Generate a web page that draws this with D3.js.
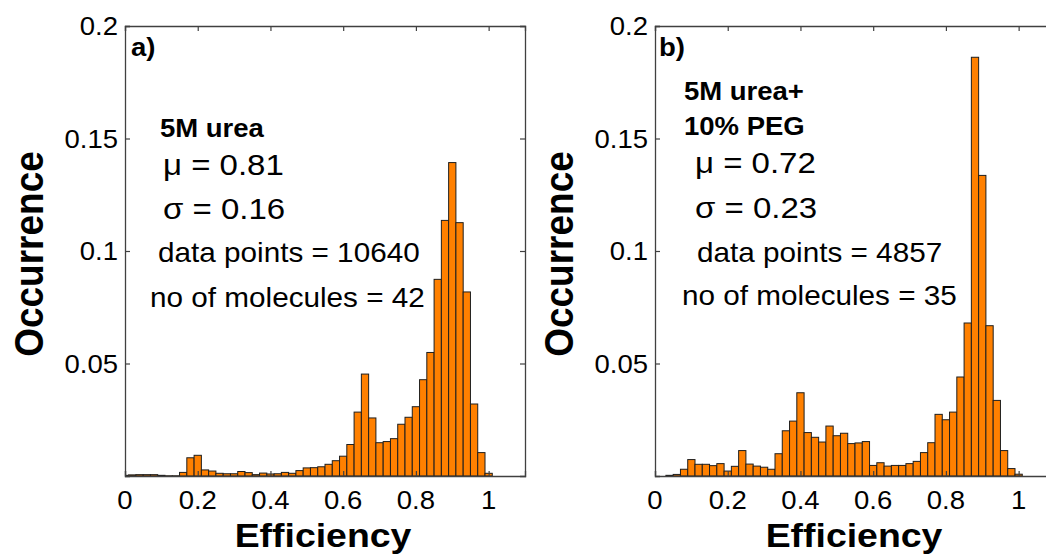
<!DOCTYPE html>
<html>
<head>
<meta charset="utf-8">
<script src="https://cdn.jsdelivr.net/npm/d3@7"></script>
<style>
  html, body { margin: 0; padding: 0; background: #fff; }
  svg { display: block; }
  text { font-family: "Liberation Sans", Arial, Helvetica, sans-serif; fill: #000; }
</style>
</head>
<body>
<svg id="chart" width="1046" height="556"></svg>
<script>
// ---- data ----
const efficiencyBins = [0.00,0.02,0.04,0.06,0.08,0.10,0.12,0.14,0.16,0.18,
  0.20,0.22,0.24,0.26,0.28,0.30,0.32,0.34,0.36,0.38,
  0.40,0.42,0.44,0.46,0.48,0.50,0.52,0.54,0.56,0.58,
  0.60,0.62,0.64,0.66,0.68,0.70,0.72,0.74,0.76,0.78,
  0.80,0.82,0.84,0.86,0.88,0.90,0.92,0.94,0.96,0.98,1.00];

const occurrenceUrea = [0.0003,0.0005,0.0006,0.0006,0.0006,0.0003,0.0001,0.0001,0.0016,0.0081,
  0.0092,0.0027,0.0022,0.0012,0.0010,0.0010,0.0020,0.0015,0.0006,0.0013,
  0.0009,0.0010,0.0016,0.0012,0.0024,0.0036,0.0037,0.0041,0.0052,0.0068,
  0.0088,0.0140,0.0284,0.0453,0.0258,0.0148,0.0153,0.0166,0.0230,0.0261,
  0.0308,0.0428,0.0549,0.0874,0.1136,0.1393,0.1126,0.0818,0.0320,0.0104,0.0012];

const occurrenceUreaPEG = [0.0000,0.0000,0.0003,0.0007,0.0030,0.0073,0.0052,0.0052,0.0046,0.0055,
  0.0022,0.0043,0.0113,0.0053,0.0044,0.0039,0.0030,0.0099,0.0201,0.0244,
  0.0370,0.0193,0.0172,0.0151,0.0222,0.0179,0.0190,0.0144,0.0147,0.0153,
  0.0047,0.0059,0.0044,0.0047,0.0047,0.0055,0.0065,0.0104,0.0148,0.0274,
  0.0250,0.0284,0.0440,0.0680,0.1861,0.1336,0.0668,0.0336,0.0113,0.0033,0.0008];

const xTickValues = [0, 0.2, 0.4, 0.6, 0.8, 1];
const xTickLabels = ["0", "0.2", "0.4", "0.6", "0.8", "1"];
const yTickValues = [0.05, 0.1, 0.15, 0.2];
const yTickLabels = ["0.05", "0.1", "0.15", "0.2"];
const binWidth = 0.02;

const panelA = {
  values: occurrenceUrea,
  letter: "a)",
  title: ["5M urea"],
  mu: "\u03bc = 0.81",
  sigma: "\u03c3 = 0.16",
  points: "data points = 10640",
  molecules: "no of molecules = 42"
};
const panelB = {
  values: occurrenceUreaPEG,
  letter: "b)",
  title: ["5M urea+", "10% PEG"],
  mu: "\u03bc = 0.72",
  sigma: "\u03c3 = 0.23",
  points: "data points = 4857",
  molecules: "no of molecules = 35"
};

// ---- drawing ----
const svg = d3.select("#chart");
const W = 1046, H = 556;
const SX = 1.1; // glyphs in the figure are slightly stretched horizontally

function label(g, px, py, str, size, opts = {}) {
  const t = g.append("text")
    .attr("transform", `translate(${px},${py}) scale(${SX},1)`)
    .style("font-size", size + "px")
    .attr("text-anchor", opts.anchor || "start")
    .text(str);
  if (opts.bold) t.style("font-weight", "bold");
  return t;
}

function drawPanel(cfg, layout, idx) {
  const g = svg.append("g");
  const x = d3.scaleLinear().domain([0, 1.1]).range([layout.left, layout.left + 400]);
  const y = d3.scaleLinear().domain([0, 0.2]).range([476, 26]);
  const x0 = x.range()[0], x1 = x.range()[1], y0 = y.range()[0], y1 = y.range()[1];

  const clipId = "clip" + idx;
  g.append("clipPath").attr("id", clipId)
    .append("rect").attr("x", x0).attr("y", y1).attr("width", x1 - x0).attr("height", y0 - y1);

  // bars
  g.append("g").attr("clip-path", `url(#${clipId})`)
    .selectAll("rect").data(cfg.values.map((v, i) => ({ c: efficiencyBins[i], v })))
    .join("rect")
    .attr("x", d => x(d.c - binWidth / 2))
    .attr("width", d => x(d.c + binWidth / 2) - x(d.c - binWidth / 2))
    .attr("y", d => y(d.v))
    .attr("height", d => y(0) - y(d.v))
    .attr("fill", "#ff8000")
    .attr("stroke", "#1e1e1e")
    .attr("stroke-width", 1);

  // axes (box with inner ticks)
  const axisColor = "#404040";
  const tickLen = 5;
  const xb = d3.axisBottom(x).tickValues(xTickValues).tickSize(-tickLen).tickFormat("");
  const xt = d3.axisTop(x).tickValues(xTickValues).tickSize(-tickLen).tickFormat("");
  const yl = d3.axisLeft(y).tickValues(yTickValues).tickSize(-tickLen).tickFormat("");
  const yr = d3.axisRight(y).tickValues(yTickValues).tickSize(-tickLen).tickFormat("");
  const gb = g.append("g").attr("transform", `translate(0,${y0})`).call(xb);
  const gt = g.append("g").attr("transform", `translate(0,${y1})`).call(xt);
  const gl = g.append("g").attr("transform", `translate(${x0},0)`).call(yl);
  const gr = g.append("g").attr("transform", `translate(${x1},0)`).call(yr);
  [gb, gt, gl, gr].forEach(a => {
    a.selectAll("path.domain").attr("stroke", axisColor).attr("stroke-width", 1.3);
    a.selectAll(".tick line").attr("stroke", axisColor).attr("stroke-width", 1.2);
  });

  // tick labels
  xTickValues.forEach((d, i) => label(g, x(d), 509, xTickLabels[i], 25, { anchor: "middle" }));
  yTickValues.forEach((d, i) => label(g, x0 - 7, y(d) + 9, yTickLabels[i], 25, { anchor: "end" }));

  // axis titles
  label(g, layout.xTitleX, 547, "Efficiency", 34, { anchor: "middle", bold: true });
  g.append("text")
    .attr("transform", `translate(${layout.yTitleX},${(y0 + y1) / 2 + 3}) rotate(-90) scale(1,${SX})`)
    .attr("text-anchor", "middle")
    .style("font-size", "37px").style("font-weight", "bold")
    .text("Occurrence");

  // annotations
  const t = layout.text;
  label(g, t.letter[0], t.letter[1], cfg.letter, 25, { bold: true });
  cfg.title.forEach((s, i) => label(g, t.title[0], t.title[1] + i * 35, s, 25, { bold: true }));
  label(g, t.mu[0], t.mu[1], cfg.mu, 30);
  label(g, t.sigma[0], t.sigma[1], cfg.sigma, 30);
  label(g, t.points[0], t.points[1], cfg.points, 27);
  label(g, t.molecules[0], t.molecules[1], cfg.molecules, 27);
}

drawPanel(panelA, {
  left: 125, yTitleX: 43, xTitleX: 323,
  text: { letter: [131, 56], title: [160, 137], mu: [163, 175], sigma: [163, 219],
          points: [158, 262], molecules: [150, 307] }
}, 0);

drawPanel(panelB, {
  left: 655, yTitleX: 573, xTitleX: 854,
  text: { letter: [659, 56], title: [684, 100], mu: [695, 173], sigma: [695, 218],
          points: [697, 262], molecules: [682, 305] }
}, 1);
</script>
</body>
</html>
